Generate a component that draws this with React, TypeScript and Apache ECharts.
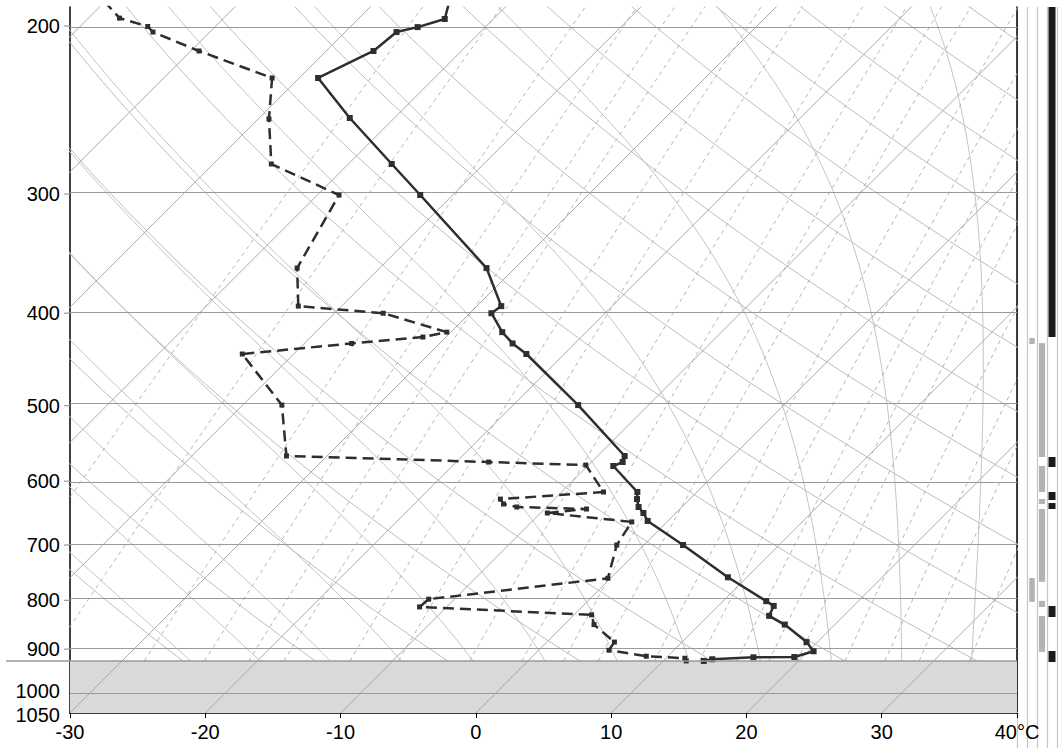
import { useEffect, useRef } from "react";
import * as echarts from "echarts";

// ---------------- layout constants ----------------
const W = 1062;
const H = 748;
const GRID_LEFT = 70;
const GRID_RIGHT = 45;
const GRID_TOP = 7;
const GRID_BOTTOM = 35;
const X_MIN = -30;
const X_MAX = 40;
const P_TOP = 191;
const P_REF = 1050;
const P_SFC = 926;
const FONT_SIZE = 20;

// ---------------- data ----------------
const isobarLevels = [200, 300, 400, 500, 600, 700, 800, 900, 1000];
const pressureLabels = [200, 300, 400, 500, 600, 700, 800, 900, 1000, 1050];
const labelNudge = [0, 0, 0, 0, 0, 0, 0, 0, -2, 2];
const tickedIsobars = [200, 300, 400, 500, 600, 700, 800, 900];
const xTickValues = [-30, -20, -10, 0, 10, 20, 30, 40];

// temperature profile (hPa, °C)
const tempPressure = [185.6, 196.6, 200.5, 202.9, 212.4, 226.7, 249.7, 279.0, 300.7, 358.7, 393.2, 400.0, 418.7, 430.3, 441.4, 499.3, 564.6, 572.9, 578.4, 615.9, 626.5, 638.6, 647.9, 660.4, 700.0, 756.7, 801.6, 810.8, 830.5, 848.2, 884.8, 904.6, 917.2, 917.9, 922.2, 926.0];
const tempValues = [-54.9, -53.6, -55.0, -56.2, -56.5, -58.6, -53.3, -46.8, -42.4, -32.1, -28.2, -28.4, -26.2, -24.6, -22.8, -15.2, -8.0, -7.7, -8.1, -4.4, -3.9, -3.2, -2.4, -1.5, 2.9, 8.6, 13.2, 14.1, 14.5, 16.3, 19.2, 20.4, 19.4, 16.4, 13.5, 13.0];

// dewpoint profile (hPa, °C)
const dewPressure = [188.3, 196.2, 200.2, 202.9, 212.4, 226.7, 250.3, 279.0, 300.7, 358.7, 393.2, 400.0, 418.7, 423.7, 430.3, 441.4, 499.3, 564.6, 572.9, 577.1, 615.9, 626.5, 634.0, 638.6, 641.7, 647.9, 662.0, 700.0, 758.5, 797.7, 812.8, 828.5, 848.2, 884.8, 902.4, 915.5, 920.0, 926.0];
const dewValues = [-80.1, -77.7, -75.0, -74.2, -69.4, -62.0, -59.2, -55.7, -48.4, -46.1, -43.2, -36.4, -30.3, -31.7, -36.5, -43.8, -37.1, -33.0, -17.6, -10.2, -6.9, -14.0, -13.4, -12.2, -6.9, -9.5, -2.6, -2.0, -0.2, -11.9, -12.0, 1.3, 2.2, 5.0, 5.2, 8.4, 11.4, 11.7];

// reference line families
const isothermValues = [-80, -70, -60, -50, -40, -30, -20, -10, 0, 10, 20, 30, 40];
const dryAdiabatThetas = [-30, -20, -10, 0, 10, 20, 30, 40, 50, 60, 70, 80, 90, 100, 110, 120, 130, 140, 150];
const moistAdiabatThetaW = [-20, -15, -10, -5, 0, 5, 10, 15, 20, 25, 30, 35];
const mixingRatios = [0.1, 0.2, 0.4, 0.6, 0.8, 1, 1.5, 2, 3, 4, 5, 6, 8, 10, 12, 14, 16, 20, 24, 28, 35];

// right-hand strip: column, top pressure, bottom pressure, kind (1 = black, 0 = grey)
const stripColumns = [3, 1, 2, 3, 2, 3, 2, 3, 2, 1, 2, 3, 2, 3];
const stripTop = [185, 424.7, 429.9, 566, 578.4, 615.9, 626.4, 632.5, 641.7, 758, 801, 811, 830.9, 904];
const stripBottom = [423.7, 430.9, 566, 579.8, 615.9, 627.9, 634, 641.7, 765, 803, 813, 832.8, 906, 928.4];
const stripKind = [1, 0, 0, 1, 0, 1, 0, 1, 0, 0, 0, 1, 0, 1];

// ---------------- helpers ----------------
const lnTop = Math.log(P_TOP);
const lnBot = Math.log(P_REF);
const plotW = W - GRID_LEFT - GRID_RIGHT;
const plotH = H - GRID_TOP - GRID_BOTTOM;
// 45° skew: °C shift per unit of ln(p)
const SKEW = (plotH / (lnBot - lnTop)) / (plotW / (X_MAX - X_MIN));

const skewX = (T: number, p: number) => T + SKEW * Math.log(P_REF / p);
const toPt = (T: number, p: number) => [skewX(T, p), Math.log(p)];

const linePressures: number[] = [];
for (let i = 0; i <= 80; i++) {
  linePressures.push(Math.exp(Math.log(P_SFC) + (Math.log(183) - Math.log(P_SFC)) * (i / 80)));
}

const es = (Tc: number) => 6.112 * Math.exp((17.67 * Tc) / (Tc + 243.5));

function moistRate(TK: number, lnp: number) {
  const p = Math.exp(lnp);
  const e = es(TK - 273.15);
  const rs = (0.622 * e) / (p - e);
  const Rd = 287.04, Cp = 1005.7, Lv = 2.501e6;
  return (Rd * TK + Lv * rs) / (Cp + (Lv * Lv * rs * 0.622) / (Rd * TK * TK));
}
function rk4(TK: number, lnp: number, h: number) {
  const k1 = moistRate(TK, lnp);
  const k2 = moistRate(TK + (h * k1) / 2, lnp + h / 2);
  const k3 = moistRate(TK + (h * k2) / 2, lnp + h / 2);
  const k4 = moistRate(TK + h * k3, lnp + h);
  return TK + (h / 6) * (k1 + 2 * k2 + 2 * k3 + k4);
}
function moistAdiabat(thetaW: number) {
  let TK = thetaW + 273.15;
  let lnp = Math.log(1000);
  const n0 = 20;
  const h0 = (Math.log(P_SFC) - lnp) / n0;
  for (let i = 0; i < n0; i++) {
    TK = rk4(TK, lnp, h0);
    lnp += h0;
  }
  const pts: number[][] = [toPt(TK - 273.15, Math.exp(lnp))];
  const h = -0.02;
  while (lnp > Math.log(183)) {
    TK = rk4(TK, lnp, h);
    lnp += h;
    pts.push(toPt(TK - 273.15, Math.exp(lnp)));
  }
  return pts;
}
function dryAdiabat(thetaC: number) {
  return linePressures.map((p) => toPt((thetaC + 273.15) * Math.pow(p / 1000, 0.2857) - 273.15, p));
}
function mixingLine(w: number) {
  return linePressures.map((p) => {
    const e = (w * p) / (622 + w);
    const l = Math.log(e / 6.112);
    return toPt((243.5 * l) / (17.67 - l), p);
  });
}

const bgLine = (data: number[][], color: string, width: number, type: any, z: number) => ({
  type: "line",
  data,
  symbol: "none",
  showSymbol: false,
  silent: true,
  clip: true,
  xAxisIndex: 0,
  yAxisIndex: 0,
  lineStyle: { color, width, type },
  z,
});

const FONT = "'Liberation Sans', Arial, sans-serif";

export default function App() {
  const ref = useRef<HTMLDivElement>(null);
  useEffect(() => {
    if (!ref.current) return;
    const chart = echarts.init(ref.current, undefined, { renderer: "svg" });

    const series: any[] = [];

    // surface shading
    series.push({
      type: "line",
      data: [[X_MIN, lnBot]],
      symbol: "none",
      silent: true,
      lineStyle: { width: 0 },
      z: 1,
      markArea: {
        silent: true,
        itemStyle: { color: "#d9d9d9" },
        data: [[{ xAxis: X_MIN, yAxis: Math.log(P_SFC) }, { xAxis: X_MAX, yAxis: lnBot }]],
      },
    });

    dryAdiabatThetas.forEach((t) => series.push(bgLine(dryAdiabat(t), "#bdbdbd", 1, "solid", 2)));
    moistAdiabatThetaW.forEach((t) => series.push(bgLine(moistAdiabat(t), "#c4c4c4", 1, "solid", 2)));
    mixingRatios.forEach((w) => series.push(bgLine(mixingLine(w), "#b4b4b4", 1, [4, 4], 2)));
    isothermValues.forEach((t) =>
      series.push(bgLine([toPt(t, P_REF), toPt(t, 180)], "#ababab", 1, "solid", 3))
    );

    // isobars
    series.push({
      type: "line",
      data: [],
      symbol: "none",
      silent: true,
      z: 4,
      markLine: {
        silent: true,
        symbol: "none",
        animation: false,
        label: { show: false },
        lineStyle: { color: "#9a9a9a", width: 1.2, type: "solid" },
        data: isobarLevels.map((p) => ({ yAxis: Math.log(p) })),
      },
    });

    // profiles
    series.push({
      type: "line",
      data: dewPressure.map((p, i) => toPt(dewValues[i], p)),
      symbol: "rect",
      symbolSize: 5,
      showAllSymbol: true,
      clip: true,
      lineStyle: { color: "#2e2e2e", width: 2.5, type: [11, 6] },
      itemStyle: { color: "#2e2e2e" },
      z: 10,
    });
    series.push({
      type: "line",
      data: tempPressure.map((p, i) => toPt(tempValues[i], p)),
      symbol: "rect",
      symbolSize: 6,
      showAllSymbol: true,
      clip: true,
      lineStyle: { color: "#2e2e2e", width: 2.5 },
      itemStyle: { color: "#2e2e2e" },
      z: 11,
    });

    // strip
    series.push({
      type: "custom",
      xAxisIndex: 1,
      yAxisIndex: 2,
      clip: true,
      silent: true,
      data: stripColumns.map((c, i) => [c, Math.log(stripTop[i]), Math.log(stripBottom[i]), stripKind[i]]),
      encode: { x: 0, y: [1, 2] },
      renderItem: (_params: any, api: any) => {
        const c = api.value(0);
        const y1 = api.value(1);
        const y2 = api.value(2);
        const k = api.value(3);
        const w = k === 1 ? 0.7 : c === 1 ? 0.55 : 0.62;
        const a = api.coord([c + 0.5 - w / 2, y1]);
        const b = api.coord([c + 0.5 + w / 2, y2]);
        return {
          type: "rect",
          shape: { x: a[0], y: a[1], width: b[0] - a[0], height: b[1] - a[1] },
          style: { fill: k === 1 ? "#1b1b1b" : "#b3b3b3" },
        };
      },
      z: 5,
    });

    const stripH = H - GRID_TOP;
    const stripYMax = lnTop + ((lnBot - lnTop) * stripH) / plotH;

    chart.setOption({
      animation: false,
      backgroundColor: "#fff",
      grid: [
        { left: GRID_LEFT, right: GRID_RIGHT, top: GRID_TOP, bottom: GRID_BOTTOM },
        { left: W - GRID_RIGHT, right: 0, top: GRID_TOP, bottom: 0 },
      ],
      xAxis: [
        {
          type: "value",
          gridIndex: 0,
          min: X_MIN,
          max: X_MAX,
          interval: 10,
          axisLine: { show: true, onZero: false, lineStyle: { color: "#000", width: 1.5 } },
          axisTick: { show: true, length: 5, lineStyle: { color: "#000", width: 1 } },
          splitLine: { show: false },
          axisLabel: {
            color: "#000",
            fontSize: FONT_SIZE,
            fontFamily: FONT,
            margin: 9,
            formatter: (v: number) => (xTickValues.indexOf(v) < 0 ? "" : v === X_MAX ? `${v}°C` : String(v)),
          },
        },
        {
          type: "value",
          gridIndex: 1,
          min: 0,
          max: 4.5,
          interval: 1,
          axisLine: { show: false, onZero: false },
          axisTick: { show: false },
          axisLabel: { show: false },
          splitLine: { show: true, lineStyle: { color: "#c6c6c6", width: 1.2 } },
        },
      ],
      yAxis: [
        {
          type: "value",
          gridIndex: 0,
          inverse: true,
          min: lnTop,
          max: lnBot,
          axisLine: { show: true, onZero: false, lineStyle: { color: "#000", width: 1.5 } },
          axisTick: { show: false },
          axisLabel: { show: false },
          splitLine: { show: false },
        },
        {
          type: "value",
          gridIndex: 0,
          position: "right",
          inverse: true,
          min: lnTop,
          max: lnBot,
          axisLine: { show: true, onZero: false, lineStyle: { color: "#000", width: 1.5 } },
          axisTick: { show: false },
          axisLabel: { show: false },
          splitLine: { show: false },
        },
        {
          type: "value",
          gridIndex: 1,
          inverse: true,
          min: lnTop,
          max: stripYMax,
          show: false,
        },
      ],
      series,
    });

    // surface line, isobar ticks and pressure labels, placed through the axis scales
    const g: any[] = [];
    const sL = chart.convertToPixel({ gridIndex: 0 }, [X_MIN, Math.log(P_SFC)]) as number[];
    const sR = chart.convertToPixel({ gridIndex: 0 }, [X_MAX, Math.log(P_SFC)]) as number[];
    g.push({
      type: "line",
      shape: { x1: 6, y1: sL[1], x2: sR[0], y2: sR[1] },
      style: { stroke: "#9a9a9a", lineWidth: 1.5 },
      z: 20,
      silent: true,
    });
    tickedIsobars.forEach((p) => {
      const pt = chart.convertToPixel({ gridIndex: 0 }, [X_MIN, Math.log(p)]) as number[];
      g.push({
        type: "line",
        shape: { x1: pt[0] - 6, y1: pt[1], x2: pt[0], y2: pt[1] },
        style: { stroke: "#9a9a9a", lineWidth: 1.2 },
        z: 20,
        silent: true,
      });
    });
    pressureLabels.forEach((p, i) => {
      const pt = chart.convertToPixel({ gridIndex: 0 }, [X_MIN, Math.log(p)]) as number[];
      g.push({
        type: "text",
        silent: true,
        z: 20,
        style: {
          text: String(p),
          x: pt[0] - 10,
          y: pt[1] + labelNudge[i],
          align: "right",
          verticalAlign: "middle",
          fontSize: FONT_SIZE,
          fontFamily: FONT,
          fill: "#000",
        },
      });
    });
    chart.setOption({ graphic: g });

    return () => chart.dispose();
  }, []);

  return (
    <div
      ref={ref}
      style={{ position: "absolute", left: 0, top: 0, width: W, height: H, background: "#fff" }}
    />
  );
}
